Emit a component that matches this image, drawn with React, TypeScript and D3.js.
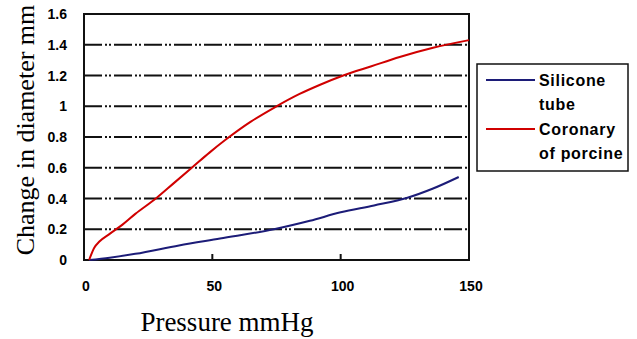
import React, { useEffect, useRef } from "react";
import * as d3 from "d3";

// values (pressure mmHg, change in diameter mm)
const siliconePressure = [2, 10, 20, 37, 53, 74, 88, 100, 113, 126, 136, 146];
const siliconeChange = [0, 0.015, 0.04, 0.095, 0.14, 0.2, 0.255, 0.31, 0.355, 0.405, 0.465, 0.54];

const coronaryPressure = [2, 4, 6, 10, 15, 20, 28, 35, 42, 49, 55, 65, 74, 84, 92, 101, 112, 123, 136, 150];
const coronaryChange = [0, 0.08, 0.12, 0.17, 0.23, 0.3, 0.4, 0.5, 0.6, 0.7, 0.78, 0.9, 0.99, 1.08, 1.14, 1.2, 1.26, 1.32, 1.38, 1.43];

const yTicks = [0, 0.2, 0.4, 0.6, 0.8, 1, 1.2, 1.4, 1.6];
const xTicks = [0, 50, 100, 150];

const seriesNames = ["Silicone", "Coronary"];
const legendLines = [["Silicone", "tube"], ["Coronary", "of porcine"]];
const seriesColors = ["#1c1c78", "#d00000"];

const width = 637;
const height = 339;
const margin = { top: 14, right: 168, bottom: 79, left: 84 };

const App = () => {
  const ref = useRef(null);

  useEffect(() => {
    const svg = d3.select(ref.current);
    svg.selectAll("*").remove();

    const x = d3.scaleLinear().domain([0, 150]).range([margin.left, width - margin.right]);
    const y = d3.scaleLinear().domain([0, 1.6]).range([height - margin.bottom, margin.top]);

    const tickFont = "'Liberation Sans', Arial, sans-serif";
    const titleFont = "'Liberation Serif', 'Times New Roman', serif";

    //gridlines (dash-dot-dot)
    svg
      .append("g")
      .selectAll("line")
      .data(yTicks.filter((d) => d > 0 && d < 1.6))
      .enter()
      .append("line")
      .attr("x1", x(0))
      .attr("x2", x(150))
      .attr("y1", (d) => y(d))
      .attr("y2", (d) => y(d))
      .attr("stroke", "#111")
      .attr("stroke-width", 2)
      .attr("stroke-dasharray", "18,3,2,2,2,3");

    //frame
    svg
      .append("rect")
      .attr("x", x(0))
      .attr("y", y(1.6))
      .attr("width", x(150) - x(0))
      .attr("height", y(0) - y(1.6))
      .attr("fill", "none")
      .attr("stroke", "#111")
      .attr("stroke-width", 2);

    //x ticks pointing inwards
    svg
      .append("g")
      .selectAll("line")
      .data(xTicks.filter((d) => d > 0 && d < 150))
      .enter()
      .append("line")
      .attr("x1", (d) => x(d))
      .attr("x2", (d) => x(d))
      .attr("y1", y(0))
      .attr("y2", y(0) - 6)
      .attr("stroke", "#111")
      .attr("stroke-width", 2);

    //y tick labels
    svg
      .append("g")
      .selectAll("text")
      .data(yTicks)
      .enter()
      .append("text")
      .attr("x", 67)
      .attr("y", (d) => y(d) + 5)
      .attr("text-anchor", "end")
      .style("font-family", tickFont)
      .style("font-weight", "bold")
      .style("font-size", "14px")
      .text((d) => d3.format("~g")(d));

    //x tick labels
    svg
      .append("g")
      .selectAll("text")
      .data(xTicks)
      .enter()
      .append("text")
      .attr("x", (d) => x(d) + 2)
      .attr("y", 291)
      .attr("text-anchor", "middle")
      .style("font-family", tickFont)
      .style("font-weight", "bold")
      .style("font-size", "14px")
      .text((d) => d);

    //lines
    const line = d3
      .line()
      .curve(d3.curveMonotoneX)
      .x((d) => x(d[0]))
      .y((d) => y(d[1]));

    const series = [
      d3.zip(siliconePressure, siliconeChange),
      d3.zip(coronaryPressure, coronaryChange),
    ];

    svg
      .append("g")
      .selectAll("path")
      .data(series)
      .enter()
      .append("path")
      .attr("fill", "none")
      .attr("stroke", (d, i) => seriesColors[i])
      .attr("stroke-width", 2)
      .attr("d", (d) => line(d));

    //axis titles
    svg
      .append("text")
      .attr("x", 227)
      .attr("y", 331)
      .attr("text-anchor", "middle")
      .style("font-family", titleFont)
      .style("font-size", "27px")
      .text("Pressure mmHg");

    svg
      .append("text")
      .attr("transform", "translate(34,130) rotate(-90)")
      .attr("text-anchor", "middle")
      .style("font-family", titleFont)
      .style("font-size", "26px")
      .text("Change in diameter mm");

    //legend
    const legend = svg.append("g").attr("class", "legend");
    legend
      .append("rect")
      .attr("x", 477)
      .attr("y", 64)
      .attr("width", 151)
      .attr("height", 107)
      .attr("fill", "white")
      .attr("stroke", "#111")
      .attr("stroke-width", 1.5);

    seriesNames.forEach((name, i) => {
      const cy = 80 + i * 49;
      legend
        .append("line")
        .attr("x1", 486)
        .attr("x2", 535)
        .attr("y1", cy)
        .attr("y2", cy)
        .attr("stroke", seriesColors[i])
        .attr("stroke-width", 2);
      legendLines[i].forEach((t, j) => {
        legend
          .append("text")
          .attr("x", 539)
          .attr("y", cy + 6 + j * 24)
          .style("font-family", tickFont)
          .style("font-weight", "bold")
          .style("font-size", "16px")
          .style("letter-spacing", "0.7px")
          .text(t);
      });
    });
  }, []);

  return (
    <svg
      ref={ref}
      width={width}
      height={height}
      style={{ position: "absolute", left: 0, top: 0, background: "white" }}
    ></svg>
  );
};

export default App;
